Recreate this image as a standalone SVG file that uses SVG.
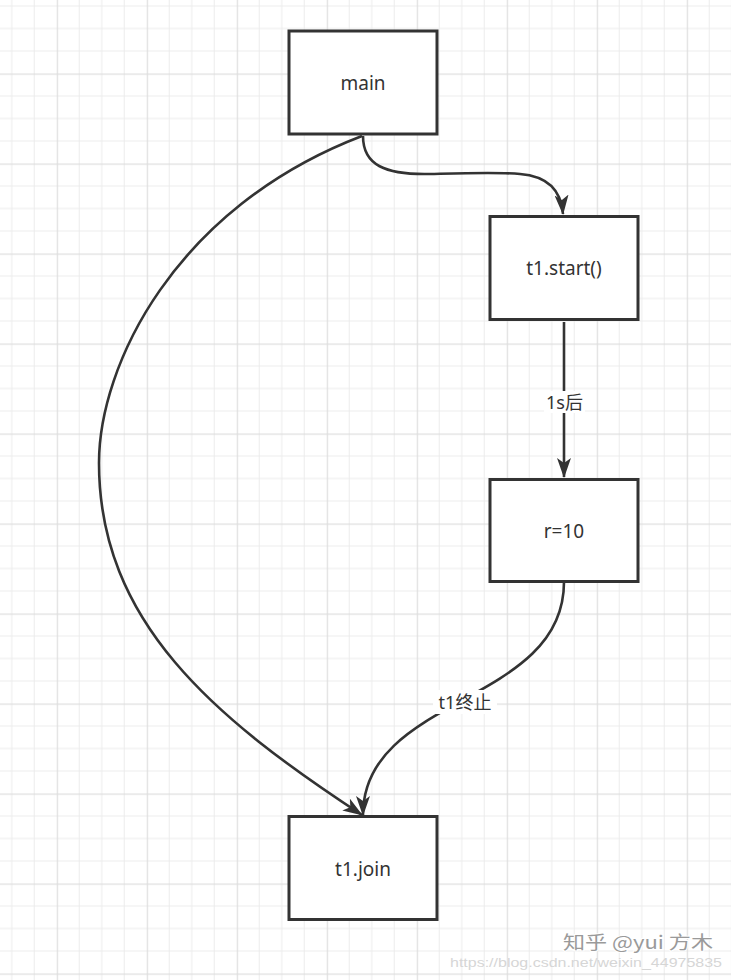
<svg xmlns="http://www.w3.org/2000/svg" width="731" height="980" viewBox="0 0 731 980">
  <style>
    .node rect { fill: #ffffff; stroke: #333333; stroke-width: 3; }
    .node text { font-family: "Noto Sans", "Liberation Sans", "Noto Sans CJK SC", sans-serif; font-size: 19px; fill: #333333; text-anchor: middle; }
    .edge { fill: none; stroke: #333333; stroke-width: 2.6; marker-end: url(#arrow); }
    .lbl-bg { fill: #ffffff; }
    .lbl { font-family: "Noto Sans", "Liberation Sans", "Noto Sans CJK SC", sans-serif; font-size: 18px; fill: #333333; text-anchor: middle; }
    .wm { font-family: "Noto Sans CJK SC", "Noto Sans", sans-serif; font-size: 18px; fill: #9a9a9a; stroke: #ffffff; stroke-width: 2; paint-order: stroke; }
    .url { font-family: "Liberation Sans", "Noto Sans", sans-serif; font-size: 13px; fill: #d6d6d6; }
  </style>
  <defs>
    <pattern id="grid" patternUnits="userSpaceOnUse" x="-33.25" y="-16.5" width="90" height="90">
      <rect x="0" y="0" width="90" height="90" fill="#ffffff"/>
      <rect x="22" y="0" width="1" height="90" fill="#ececec"/>
      <rect x="44.5" y="0" width="1" height="90" fill="#ececec"/>
      <rect x="67" y="0" width="1" height="90" fill="#ececec"/>
      <rect x="0" y="22" width="90" height="1" fill="#ececec"/>
      <rect x="0" y="44.5" width="90" height="1" fill="#ececec"/>
      <rect x="0" y="67" width="90" height="1" fill="#ececec"/>
      <rect x="0" y="0" width="1.2" height="90" fill="#dedede"/>
      <rect x="0" y="0" width="90" height="1.2" fill="#dedede"/>
    </pattern>
    <marker id="arrow" markerUnits="userSpaceOnUse" viewBox="0 0 20 14" markerWidth="20" markerHeight="14" refX="19" refY="7" orient="auto">
      <path d="M0,0 L20,7 L0,14 L5,7 z" fill="#333333"/>
    </marker>
  </defs>

  <rect x="0" y="0" width="731" height="980" fill="url(#grid)"/>

  <g id="connectors">
    <path id="e-main-start" class="edge" d="M363,136 C363,165 385,175 430,174 C470,173 500,172 520,174 C545,176 561,188 563,214"/>
    <path id="e-main-join" class="edge" d="M362,136 C174,208 99,366 99,463 C99,622 214,718 362,815"/>
    <path id="e-start-r" class="edge" d="M564,322 L564,477"/>
    <path id="e-r-join" class="edge" d="M564,582 C564,705 363,695 363,815"/>
    <g id="label-1s">
      <rect class="lbl-bg" x="544" y="391" width="41" height="22"/>
      <text class="lbl" x="564.5" y="408.5">1s后</text>
    </g>
    <g id="label-t1end">
      <rect class="lbl-bg" x="433" y="690" width="64" height="24"/>
      <text class="lbl" x="465" y="708.5">t1终止</text>
    </g>
  </g>

  <g id="node-main" class="node">
    <rect x="289" y="31" width="148" height="103"/>
    <text x="363" y="90">main</text>
  </g>
  <g id="node-start" class="node">
    <rect x="490" y="216.5" width="148" height="103"/>
    <text x="564" y="275">t1.start()</text>
  </g>
  <g id="node-r" class="node">
    <rect x="490" y="479.5" width="148" height="102"/>
    <text x="564" y="538">r=10</text>
  </g>
  <g id="node-join" class="node">
    <rect x="289" y="816.5" width="148" height="103"/>
    <text x="363" y="876">t1.join</text>
  </g>

  <g id="watermark">
    <text class="wm" x="563" y="949" textLength="150" lengthAdjust="spacingAndGlyphs">知乎 @yui 方木</text>
    <text class="url" x="450" y="967" textLength="272" lengthAdjust="spacingAndGlyphs">https://blog.csdn.net/weixin_44975835</text>
  </g>
</svg>
